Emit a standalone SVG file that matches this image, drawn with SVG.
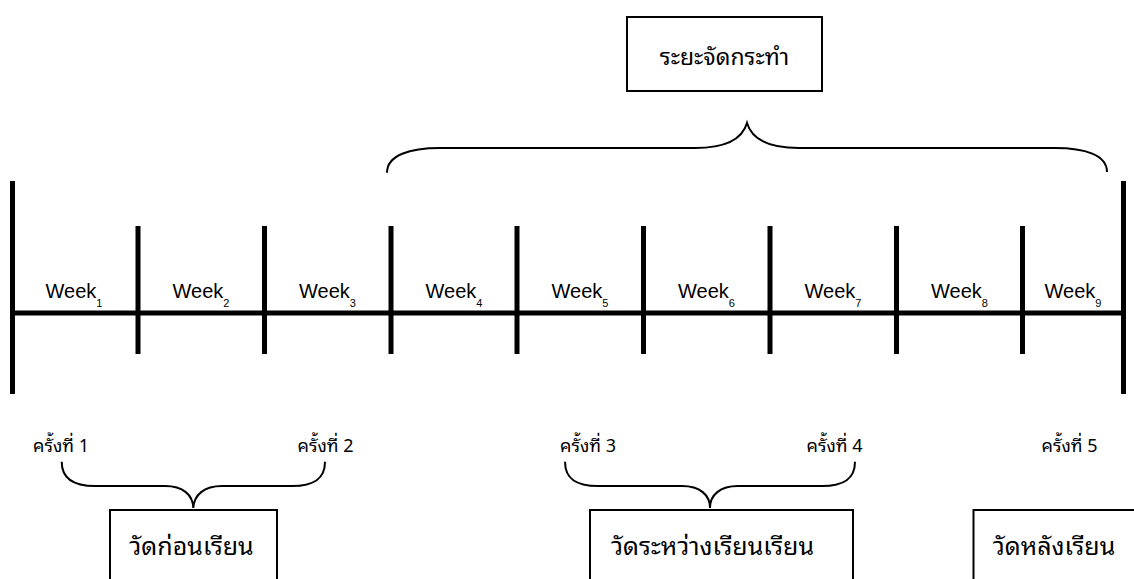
<svg xmlns="http://www.w3.org/2000/svg" width="1134" height="579" viewBox="0 0 1134 579">
<style>
.bg{fill:#fff}
.bar{stroke:#000;stroke-width:5;fill:none}
.brace{stroke:#000;stroke-width:2;fill:none}
.box{fill:#fff;stroke:#000;stroke-width:2}
.wk{font-family:"Liberation Sans",Arial,sans-serif;font-size:20px;fill:#000;text-anchor:middle}
.sub{font-size:11px}
.th{font-family:"Noto Sans Thai Looped","Loma","Garuda","Noto Sans Thai","Noto Sans","DejaVu Sans",sans-serif;fill:#000}
.lbl{font-size:18px}
.big{font-size:25px;text-anchor:middle}
</style>
<rect class="bg" x="0" y="0" width="1134" height="579"/>
<g id="timeline">
<line class="bar" x1="10" y1="313" x2="1125" y2="313"/>
<line class="bar" x1="12.5" y1="181" x2="12.5" y2="394"/>
<line class="bar" x1="1123.5" y1="181" x2="1123.5" y2="394"/>
<line class="bar" x1="138" y1="226" x2="138" y2="354"/>
<line class="bar" x1="264.5" y1="226" x2="264.5" y2="354"/>
<line class="bar" x1="391" y1="226" x2="391" y2="354"/>
<line class="bar" x1="517" y1="226" x2="517" y2="354"/>
<line class="bar" x1="643.5" y1="226" x2="643.5" y2="354"/>
<line class="bar" x1="770" y1="226" x2="770" y2="354"/>
<line class="bar" x1="896.5" y1="226" x2="896.5" y2="354"/>
<line class="bar" x1="1022.5" y1="226" x2="1022.5" y2="354"/>
</g>
<g id="weeks">
<text class="wk" x="74" y="298">Week<tspan class="sub" dy="9">1</tspan></text>
<text class="wk" x="201" y="298">Week<tspan class="sub" dy="9">2</tspan></text>
<text class="wk" x="327.5" y="298">Week<tspan class="sub" dy="9">3</tspan></text>
<text class="wk" x="454" y="298">Week<tspan class="sub" dy="9">4</tspan></text>
<text class="wk" x="580" y="298">Week<tspan class="sub" dy="9">5</tspan></text>
<text class="wk" x="706.5" y="298">Week<tspan class="sub" dy="9">6</tspan></text>
<text class="wk" x="833" y="298">Week<tspan class="sub" dy="9">7</tspan></text>
<text class="wk" x="959.5" y="298">Week<tspan class="sub" dy="9">8</tspan></text>
<text class="wk" x="1073" y="298">Week<tspan class="sub" dy="9">9</tspan></text>
</g>
<g id="sessions">
<text class="th lbl" x="33" y="452">ครั้งที่ 1</text>
<text class="th lbl" x="297.5" y="452">ครั้งที่ 2</text>
<text class="th lbl" x="560" y="452">ครั้งที่ 3</text>
<text class="th lbl" x="806.5" y="452">ครั้งที่ 4</text>
<text class="th lbl" x="1041.5" y="452">ครั้งที่ 5</text>
</g>
<g id="connectors">
<path class="brace" d="M387 172.7 C387 155 410 148 440 148 L695 148 C725 148 742 140 747 123 C752 140 769 148 799 148 L1055 148 C1085 148 1107 155 1107 172"/>
<path class="brace" d="M61.7 461.7 C61.7 480 75 486 95 486 L165 486 C183 486 193 495 193.3 508 C194 495 204 486 222 486 L292 486 C312 486 325 480 325 461.7"/>
<path class="brace" d="M565 461.7 C565 480 578 486 598 486 L682 486 C700 486 710 495 710 508 C710 495 720 486 738 486 L822 486 C842 486 855 480 855 461.7"/>
</g>
<g id="node-treatment">
<rect class="box" x="627" y="17" width="195" height="74"/>
<text class="th big" x="724.5" y="65" style="font-size:23px">ระยะจัดกระทำ</text>
</g>
<g id="node-pre">
<rect class="box" x="110" y="510" width="167" height="80"/>
<text class="th big" x="191.5" y="555">วัดก่อนเรียน</text>
</g>
<g id="node-during">
<rect class="box" x="590" y="510" width="263" height="80"/>
<text class="th big" x="712.5" y="555">วัดระหว่างเรียนเรียน</text>
</g>
<g id="node-post">
<rect class="box" x="973.5" y="510" width="170" height="80"/>
<text class="th big" x="1054" y="555">วัดหลังเรียน</text>
</g>
</svg>
